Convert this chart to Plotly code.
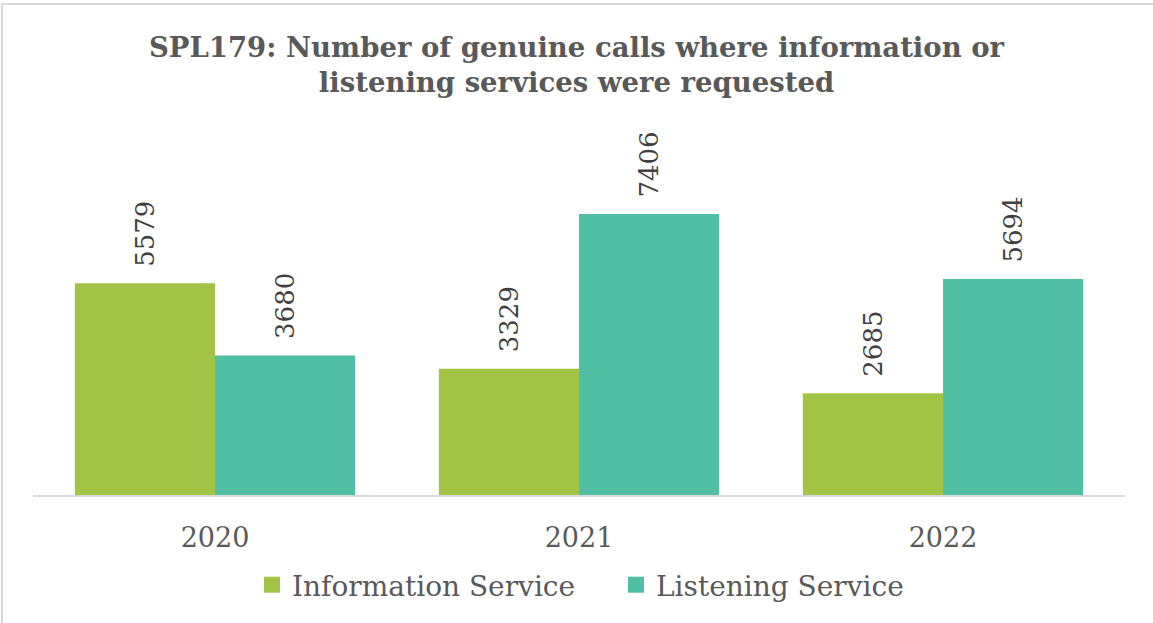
import plotly.graph_objects as go

years = ['2020', '2021', '2022']
information = [5579, 3329, 2685]
listening = [3680, 7406, 5694]

font_family = 'DejaVu Serif'
text_grey = '#595959'
green = '#A1C446'
teal = '#50BFA4'

fig = go.Figure()
for name, vals, col in [('Information Service', information, green),
                        ('Listening Service', listening, teal)]:
    fig.add_trace(go.Bar(
        x=years, y=vals, name=name,
        marker=dict(color=col, line=dict(width=0)),
        texttemplate='\u00a0\u2009%{y}', textposition='outside', textangle=-90,
        textfont=dict(size=26, color='#404040', family=font_family),
        cliponaxis=False, showlegend=False,
    ))
# legend entries with bigger square swatches
for name, col in [('Information Service', green), ('Listening Service', teal)]:
    fig.add_trace(go.Scatter(
        x=[None], y=[None], mode='markers', name=name,
        marker=dict(symbol='square', size=17, color=col),
    ))

fig.update_layout(
    width=1153, height=623,
    margin=dict(l=33, r=28, t=120, b=128),
    paper_bgcolor='white', plot_bgcolor='white',
    barmode='group', bargap=0.23, bargroupgap=0,
    font=dict(family=font_family, color=text_grey),
    title=dict(
        text='<b>SPL179: Number of genuine calls where information or<br>listening services were requested</b>',
        x=0.5, xanchor='center', y=0.909, yanchor='middle',
        font=dict(size=27.5, color=text_grey, family=font_family),
    ),
    legend=dict(
        orientation='h', x=(252 - 33) / 1092, xanchor='left', y=-0.24, yanchor='middle',
        font=dict(size=28, color=text_grey), itemwidth=30,
        entrywidth=319, entrywidthmode='pixels',
    ),
)
fig.update_xaxes(
    showline=True, linecolor='#D9D9D9', linewidth=2,
    ticks='outside', ticklen=18, tickcolor='rgba(0,0,0,0)',
    tickfont=dict(size=27, color=text_grey),
    showgrid=False,
)
fig.update_yaxes(visible=False, range=[0, 9884], showgrid=False)

# outer chart border (right/bottom edges fall outside the image)
fig.add_shape(
    type='rect', xref='paper', yref='paper',
    x0=-0.0284, x1=1.032, y0=-0.36, y1=1.3093,
    line=dict(color='#D9D9D9', width=2), layer='below',
)

fig.write_html('out.html', config={'displayModeBar': False},
               post_script="document.body.style.margin='0';")
